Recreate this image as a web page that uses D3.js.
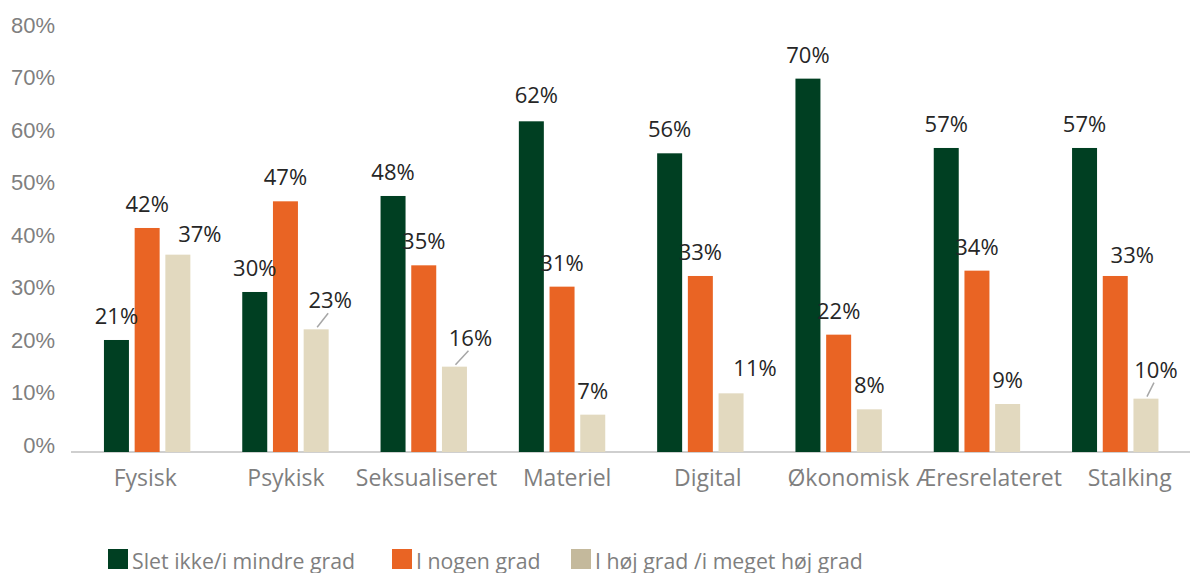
<!DOCTYPE html>
<html>
<head>
<meta charset="utf-8">
<script src="https://cdn.jsdelivr.net/npm/d3@7"></script>
<style>
	body { margin: 0; background: #fff; }
	svg { display: block; font-family: "Open Sans", sans-serif; }
	.tick-lab { fill: #7f7f7f; font-size: 22px; }
	.cat-lab { fill: #7f7f7f; font-size: 23px; }
	.barlabs { fill: #262626; font-size: 22px; }
	.leg-lab { fill: #7f7f7f; font-size: 21.3px; }
</style>
</head>
<body>
<div id="chart"></div>
<script>

// categories and series
let categories = ["Fysisk", "Psykisk", "Seksualiseret", "Materiel", "Digital", "Økonomisk", "Æresrelateret", "Stalking"];
let seriesNames = ["Slet ikke/i mindre grad", "I nogen grad", "I høj grad /i meget høj grad"];

// values in percent, one array per series
let sletIkke = [21, 30, 48, 62, 56, 70, 57, 57];
let iNogenGrad = [42, 47, 35, 31, 33, 22, 34, 33];
let iHoejGrad = [37, 23, 16, 7, 11, 8, 9, 10];

let yTicks = [0, 10, 20, 30, 40, 50, 60, 70, 80];

// colours
let barColors = ["#003f22", "#e96424", "#e2d9bf"];
let legendColors = ["#003f22", "#e96424", "#c4b99c"];

// hand placed label nudges (like in the original), key = category|series index
let labelNudge = {
	"Fysisk|2": {dx: 22, dy: 3},
	"Psykisk|2": {dx: 14, dy: -5, leader: true},
	"Seksualiseret|2": {dx: 16, dy: -5, leader: true},
	"Materiel|0": {dx: 5, dy: -2},
	"Digital|2": {dx: 24, dy: -1},
	"Stalking|1": {dx: 17, dy: 3},
	"Stalking|2": {dx: 10, dy: -5, leader: true}
};

let allSeries = [sletIkke, iNogenGrad, iHoejGrad];
let width = 1190, height = 573;

let svg = d3.select("#chart").append("svg")
	.attr("width", width)
	.attr("height", height);

// scales
let x0 = d3.scaleBand()
	.domain(categories)
	.range([78, 78 + 8 * 138.3]);

let groupW = 86.4;
let x1 = d3.scaleBand()
	.domain([0, 1, 2])
	.range([0, groupW])
	.paddingInner(0.186);

// category labels sit on a slightly wider band than the bars
let xLab = d3.scaleBand()
	.domain(categories)
	.range([75, 1200]);

let y = d3.scaleLinear()
	.domain([0, 80])
	.range([452, 25.3]);

// tick labels are spaced a bit tighter than the bars
let yTick = d3.scaleLinear()
	.domain([0, 80])
	.range([445, 25]);

let yAxis = d3.axisLeft(yTick)
	.tickValues(yTicks)
	.tickSize(0)
	.tickPadding(0)
	.tickFormat(d => d + "%");

let yG = svg.append("g")
	.attr("transform", "translate(55,0)")
	.call(yAxis);
yG.select(".domain").remove();
yG.selectAll("text")
	.attr("class", "tick-lab")
	.attr("fill", null)
	.attr("font-family", null)
	.attr("font-size", null);

// baseline
svg.append("line")
	.attr("x1", 71)
	.attr("x2", width)
	.attr("y1", y(0))
	.attr("y2", y(0))
	.attr("stroke", "#bfbfbf")
	.attr("stroke-width", 1.5);

// flat table for bars
let rows = [];
categories.forEach((c, i) => {
	allSeries.forEach((s, j) => {
		rows.push({cat: c, s: j, value: s[i]});
	});
});

function barX(d) {
	return x0(d.cat) + (x0.bandwidth() - groupW) / 2 + x1(d.s);
}

svg.selectAll("rect.bar")
	.data(rows)
	.enter()
	.append("rect")
	.attr("class", "bar")
	.attr("x", d => barX(d))
	.attr("y", d => y(d.value))
	.attr("width", x1.bandwidth())
	.attr("height", d => y(0) - y(d.value))
	.attr("fill", d => barColors[d.s]);

// data labels
function labX(d) {
	let n = labelNudge[d.cat + "|" + d.s];
	return barX(d) + x1.bandwidth() / 2 + (n ? n.dx : 0);
}
function labY(d) {
	let n = labelNudge[d.cat + "|" + d.s];
	return y(d.value) - 16 + (n ? n.dy : 0);
}

svg.selectAll("line.leader")
	.data(rows.filter(d => labelNudge[d.cat + "|" + d.s] && labelNudge[d.cat + "|" + d.s].leader))
	.enter()
	.append("line")
	.attr("class", "leader")
	.attr("x1", d => barX(d) + x1.bandwidth() / 2 + 1)
	.attr("y1", d => y(d.value) - 2)
	.attr("x2", d => labX(d) - 2)
	.attr("y2", d => labY(d) + 5)
	.attr("stroke", "#a6a6a6")
	.attr("stroke-width", 1.5);

svg.selectAll("text.barlabs")
	.data(rows)
	.enter()
	.append("text")
	.attr("class", "barlabs")
	.attr("text-anchor", "middle")
	.attr("x", d => labX(d))
	.attr("y", d => labY(d))
	.text(d => d.value + "%");

// category labels
svg.selectAll("text.cat-lab")
	.data(categories)
	.enter()
	.append("text")
	.attr("class", "cat-lab")
	.attr("text-anchor", "middle")
	.attr("x", d => xLab(d) + xLab.bandwidth() / 2)
	.attr("y", 486)
	.text(d => d);

// legend
let legendX = [108, 392, 571];
let leg = svg.selectAll("g.leg")
	.data(seriesNames)
	.enter()
	.append("g")
	.attr("class", "leg")
	.attr("transform", (d, i) => "translate(" + legendX[i] + ",549)");

leg.append("rect")
	.attr("width", 20)
	.attr("height", 20)
	.attr("fill", (d, i) => legendColors[i]);

leg.append("text")
	.attr("class", "leg-lab")
	.attr("x", 24)
	.attr("y", 20)
	.text(d => d);

</script>
</body>
</html>
